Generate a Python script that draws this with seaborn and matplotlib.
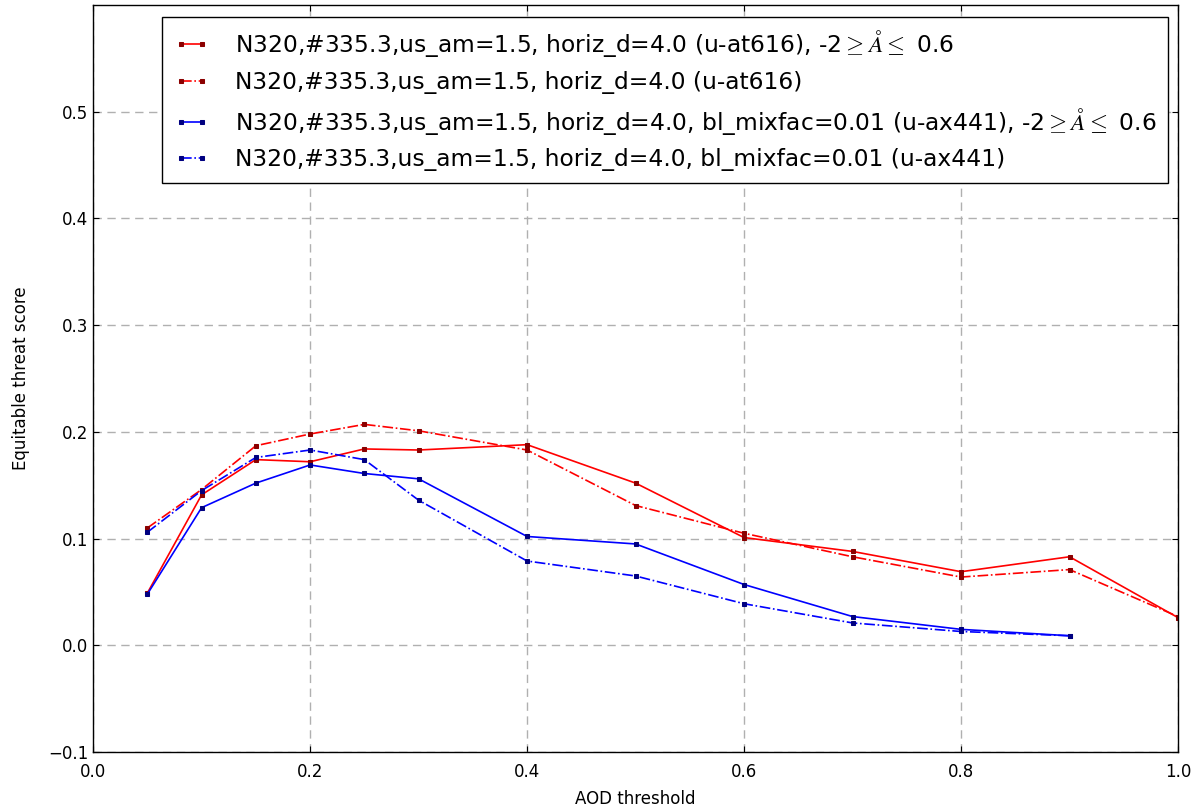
import matplotlib
matplotlib.use("Agg")
import matplotlib.pyplot as plt
import numpy as np
import pandas as pd
import seaborn as sns

# AOD thresholds
aod_red = [0.05, 0.1, 0.15, 0.2, 0.25, 0.3, 0.4, 0.5, 0.6, 0.7, 0.8, 0.9, 1.0]
aod_blue = [0.05, 0.1, 0.15, 0.2, 0.25, 0.3, 0.4, 0.5, 0.6, 0.7, 0.8, 0.9]

# equitable threat scores
ets_at616_ang = [0.049, 0.141, 0.174, 0.172, 0.184, 0.183, 0.188, 0.152, 0.101, 0.088, 0.069, 0.083, 0.026]
ets_at616 = [0.110, 0.146, 0.187, 0.198, 0.207, 0.201, 0.183, 0.131, 0.105, 0.083, 0.064, 0.071, 0.027]
ets_ax441_ang = [0.048, 0.129, 0.152, 0.169, 0.161, 0.156, 0.102, 0.095, 0.057, 0.027, 0.015, 0.009]
ets_ax441 = [0.106, 0.145, 0.176, 0.183, 0.174, 0.136, 0.079, 0.065, 0.039, 0.021, 0.013, 0.009]

labels = [
    r"N320,#335.3,us_am=1.5, horiz_d=4.0 (u-at616), -2$\geq\AA\leq$ 0.6",
    "N320,#335.3,us_am=1.5, horiz_d=4.0 (u-at616)",
    r"N320,#335.3,us_am=1.5, horiz_d=4.0, bl_mixfac=0.01 (u-ax441), -2$\geq\AA\leq$ 0.6",
    "N320,#335.3,us_am=1.5, horiz_d=4.0, bl_mixfac=0.01 (u-ax441)",
]

sns.set_style("white")
plt.rcParams["font.family"] = ["DejaVu Sans"]
plt.rcParams["mathtext.fontset"] = "cm"
for key in ["text.color", "axes.labelcolor", "xtick.color", "ytick.color"]:
    plt.rcParams[key] = "black"

fig = plt.figure(figsize=(11.94, 8.07), dpi=100)
ax = fig.add_axes([0.078, 0.068, 0.9086, 0.926])

series = [
    (aod_red, ets_at616_ang, "red", "-", "#8b0000"),
    (aod_red, ets_at616, "red", "-.", "#8b0000"),
    (aod_blue, ets_ax441_ang, "blue", "-", "#000080"),
    (aod_blue, ets_ax441, "blue", "-.", "#000080"),
]
for (x, y, col, ls, mcol), lab in zip(series, labels):
    df = pd.DataFrame({"aod": x, "ets": y})
    sns.lineplot(data=df, x="aod", y="ets", ax=ax, color=col, linestyle=ls,
                 linewidth=1.2, marker="s", markersize=3, markerfacecolor=mcol,
                 markeredgecolor=mcol, label=lab, estimator=None)

ax.set_xlim(0.0, 1.0)
ax.set_ylim(-0.1, 0.6)
ax.set_xticks(np.arange(0, 1.01, 0.2))
ax.set_yticks([-0.1, 0.0, 0.1, 0.2, 0.3, 0.4, 0.5])
ax.set_xlabel("AOD threshold", fontsize=12, labelpad=6)
ax.set_ylabel("Equitable threat score", fontsize=12, labelpad=13)
ax.tick_params(direction="in", length=4, labelsize=12, top=True, right=True,
               bottom=True, left=True, color="black", labelcolor="black")
ax.tick_params(axis="x", pad=8)
for sp in ax.spines.values():
    sp.set_color("black")
    sp.set_linewidth(1.0)
ax.grid(True, color="#b0b0b0", linestyle=(0, (6, 4)), linewidth=1.0)

leg = ax.legend(loc="upper right", bbox_to_anchor=(0.9908, 0.984), fontsize=16.8,
                numpoints=2, fancybox=False, framealpha=1, edgecolor="black",
                borderpad=0.5, borderaxespad=0, handlelength=1.5, handletextpad=1.1,
                labelspacing=0.5)
leg.get_frame().set_linewidth(1.0)

fig.savefig("out.png", dpi=100)
